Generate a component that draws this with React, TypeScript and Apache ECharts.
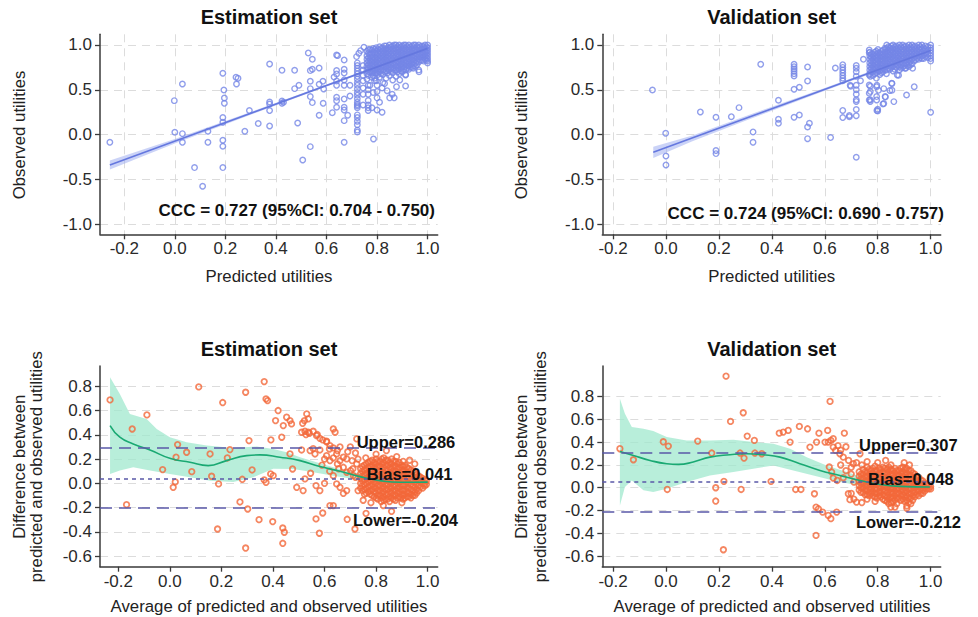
import React, { useEffect, useRef } from "react";
import * as echarts from "echarts";

// ---------------- data ----------------
const X_TICKS = [-0.2, 0, 0.2, 0.4, 0.6, 0.8, 1.0];
const Y_TICKS_TOP = [-1.0, -0.5, 0, 0.5, 1.0];
const Y_TICKS_BOTTOM = [-0.6, -0.4, -0.2, 0, 0.2, 0.4, 0.6, 0.8];

const TITLES = ["Estimation set", "Validation set", "Estimation set", "Validation set"];
const CCC_LABELS = ["CCC = 0.727 (95%CI: 0.704 - 0.750)", "CCC = 0.724 (95%CI: 0.690 - 0.757)"];
const TOP_X_NAME = "Predicted utilities";
const TOP_Y_NAME = "Observed utilities";
const BOTTOM_X_NAME = "Average of predicted and observed utilities";
const BOTTOM_Y_NAME = ["Difference between", "predicted and observed utilities"];

// Bland-Altman lines: upper, bias, lower
const EST_BA_LINES = [0.286, 0.041, -0.204];
const VAL_BA_LINES = [0.307, 0.048, -0.212];

// ---- Estimation set: predicted vs observed ----
const EST_SC_POINTS: number[][] = [
  [-0.257, -0.086], [-0.002, 0.379], [0.03, 0.565], [0.0, 0.026], [0.03, 0.011], [0.03, -0.086],
  [0.078, -0.368], [0.11, -0.576], [0.131, 0.037], [0.131, -0.086], [0.19, 0.684], [0.194, 0.498],
  [0.196, 0.409], [0.196, 0.349], [0.19, 0.19], [0.19, 0.138], [0.19, -0.063], [0.19, -0.13],
  [0.19, -0.368], [0.242, 0.639], [0.25, 0.628], [0.244, 0.565], [0.295, 0.268], [0.277, 0.037],
  [0.33, 0.123], [0.375, 0.788], [0.375, 0.364], [0.375, 0.342], [0.375, 0.268], [0.375, 0.097],
  [0.424, 0.717], [0.424, 0.375], [0.424, 0.349], [0.43, 0.36], [0.474, 0.717], [0.474, 0.513],
  [0.491, 0.55], [0.486, 0.13], [0.506, -0.283], [0.528, 0.911], [0.544, 0.84], [0.536, 0.714],
  [0.544, 0.729], [0.536, 0.595], [0.536, 0.513], [0.536, 0.424], [0.544, 0.357], [0.536, -0.134],
  [0.571, 0.743], [0.571, 0.561], [0.586, 0.595], [0.589, 0.509], [0.571, 0.216], [0.587, 0.349],
  [0.64, 0.888], [0.644, 0.881], [0.67, 0.833], [0.67, 0.729], [0.64, 0.714], [0.64, 0.677],
  [0.67, 0.688], [0.63, 0.643], [0.64, 0.599], [0.67, 0.61], [0.64, 0.55], [0.67, 0.55],
  [0.693, 0.55], [0.64, 0.416], [0.64, 0.379], [0.67, 0.398], [0.693, 0.431], [0.67, 0.305],
  [0.64, 0.305], [0.623, 0.245], [0.67, 0.275], [0.684, 0.216], [0.67, 0.156], [0.67, -0.086],
  [0.719, 0.87], [0.728, 0.907], [0.748, 0.974], [0.735, 0.937],
  [0.786, -0.048], [0.8, 0.55], [0.8, 0.48], [0.8, 0.41], [0.8, 0.275], [0.82, 0.25], [0.84, 0.49],
  [0.85, 0.41], [0.868, 0.41], [0.877, 0.535], [0.913, 0.543], [0.89, 0.61], [0.943, 0.74],
  [0.966, 0.7], [0.913, 0.665], [0.86, 0.45], [0.83, 0.57], [0.82, 0.52], [0.79, 0.6], [0.81, 0.36],
  [0.78, 0.3],
];
const EST_SC_COLUMNS: [number, number[]][] = [
  [0.722, [0.8, 0.77, 0.74, 0.71, 0.68, 0.65, 0.62, 0.58, 0.55, 0.51, 0.47, 0.44, 0.4, 0.36, 0.335, 0.32, 0.3, 0.22, 0.19, 0.15, 0.11, 0.05, 0.03]],
  [0.745, [0.77, 0.72, 0.66, 0.6, 0.52, 0.45, 0.33]],
  [0.765, [0.55, 0.5, 0.45, 0.38, 0.33, 0.3, 0.27]],
  [0.76, [0.93, 0.88, 0.84, 0.8, 0.76, 0.72, 0.68, 0.62]],
  [0.772, [0.95, 0.9, 0.86, 0.82, 0.78, 0.74, 0.7, 0.55]],
  [0.785, [0.96, 0.92, 0.87, 0.83, 0.79, 0.75, 0.71, 0.66, 0.47]],
  [0.797, [0.97, 0.93, 0.89, 0.85, 0.81, 0.77, 0.73, 0.69, 0.6]],
  [0.81, [0.98, 0.94, 0.9, 0.86, 0.82, 0.78, 0.74, 0.7, 0.64]],
  [0.823, [0.97, 0.93, 0.89, 0.85, 0.81, 0.77, 0.72, 0.67, 0.58]],
  [0.836, [0.99, 0.95, 0.91, 0.87, 0.83, 0.79, 0.75, 0.71, 0.63]],
  [0.849, [1.0, 0.96, 0.92, 0.88, 0.84, 0.8, 0.76, 0.72, 0.66]],
  [0.862, [0.99, 0.95, 0.91, 0.87, 0.83, 0.79, 0.74, 0.69, 0.61]],
  [0.875, [1.0, 0.96, 0.92, 0.88, 0.84, 0.8, 0.76, 0.72, 0.65]],
  [0.888, [1.0, 0.96, 0.93, 0.89, 0.85, 0.81, 0.77, 0.73, 0.68]],
  [0.9, [0.99, 0.95, 0.91, 0.87, 0.83, 0.79, 0.75, 0.7]],
  [0.913, [1.0, 0.96, 0.92, 0.88, 0.84, 0.8, 0.76, 0.72, 0.67]],
  [0.926, [1.0, 0.96, 0.93, 0.89, 0.85, 0.81, 0.77, 0.73]],
  [0.939, [0.99, 0.95, 0.91, 0.87, 0.83, 0.79, 0.75]],
  [0.952, [1.0, 0.96, 0.92, 0.88, 0.84, 0.8, 0.76]],
  [0.965, [1.0, 0.97, 0.93, 0.89, 0.85, 0.81, 0.72]],
  [0.978, [0.99, 0.95, 0.91, 0.87, 0.83]],
  [0.99, [1.0, 0.96, 0.92, 0.88, 0.84]],
  [1.0, [1.0, 0.97, 0.94, 0.91, 0.88, 0.85, 0.82, 0.8]],
  [0.766, [0.95, 0.91, 0.86, 0.82, 0.78, 0.74, 0.7, 0.66]],
  [0.779, [0.94, 0.89, 0.85, 0.81, 0.77, 0.73, 0.69, 0.64]],
  [0.791, [0.95, 0.91, 0.85, 0.81, 0.77, 0.73, 0.69, 0.63]],
  [0.803, [0.95, 0.91, 0.87, 0.83, 0.79, 0.75, 0.71, 0.67]],
  [0.816, [0.96, 0.92, 0.88, 0.84, 0.8, 0.76, 0.72, 0.68]],
  [0.829, [0.99, 0.95, 0.91, 0.87, 0.83, 0.79, 0.75, 0.7]],
  [0.842, [0.97, 0.93, 0.89, 0.85, 0.81, 0.77, 0.73, 0.69]],
  [0.855, [0.98, 0.94, 0.9, 0.86, 0.82, 0.78, 0.74, 0.7]],
  [0.868, [1.0, 0.97, 0.93, 0.89, 0.85, 0.81, 0.77, 0.72]],
  [0.881, [0.98, 0.94, 0.9, 0.86, 0.82, 0.78, 0.74, 0.7]],
  [0.894, [0.98, 0.94, 0.91, 0.87, 0.83, 0.79, 0.75, 0.71]],
  [0.906, [1.0, 0.97, 0.93, 0.89, 0.85, 0.81, 0.77, 0.73]],
  [0.919, [0.98, 0.94, 0.9, 0.86, 0.82, 0.78, 0.74]],
  [0.932, [0.98, 0.94, 0.91, 0.87, 0.83, 0.79, 0.75]],
  [0.945, [1.0, 0.97, 0.93, 0.89, 0.85, 0.81, 0.77]],
  [0.958, [0.98, 0.94, 0.9, 0.86, 0.82, 0.78]],
  [0.971, [0.98, 0.95, 0.91, 0.87, 0.83]],
  [0.984, [0.98, 0.94, 0.9, 0.86, 0.82]],
  [0.995, [0.98, 0.95, 0.92, 0.89, 0.86, 0.83]],
];
const EST_FIT_LINE = [[-0.257, -0.34], [1.0, 0.962]];
const EST_FIT_BAND_HI = [[-0.257, -0.29], [0.0, -0.05], [0.3, 0.252], [0.6, 0.558], [0.8, 0.767], [1.0, 0.978]];
const EST_FIT_BAND_LO = [[-0.257, -0.39], [0.0, -0.098], [0.3, 0.222], [0.6, 0.538], [0.8, 0.743], [1.0, 0.946]];

// ---- Validation set: predicted vs observed ----
const VAL_SC_POINTS: number[][] = [
  [-0.051, 0.498], [-0.001, 0.015], [0.0, -0.238], [0.0, -0.338], [0.13, 0.253], [0.189, 0.193],
  [0.189, -0.178], [0.189, -0.212], [0.247, 0.2], [0.276, 0.301], [0.329, 0.03], [0.329, -0.086],
  [0.358, 0.784], [0.425, 0.383], [0.425, 0.171], [0.425, 0.126], [0.484, 0.506], [0.504, 0.528],
  [0.535, 0.755], [0.535, 0.599], [0.484, 0.193], [0.504, 0.219], [0.542, 0.126], [0.535, 0.086],
  [0.535, -0.045], [0.622, -0.033], [0.64, 0.743], [0.693, 0.2], [0.698, 0.54], [0.693, 0.214],
  [0.735, 0.6], [0.746, 0.84], [0.768, 0.944], [0.768, 0.914], [0.768, 0.665], [0.768, 0.554],
  [0.768, 0.461], [0.768, 0.387], [0.796, 0.535], [0.796, 0.424], [0.796, 0.387], [0.8, 0.283],
  [0.8, 0.264], [0.82, 0.342], [0.828, 0.424], [0.846, 0.491], [0.853, 0.573], [0.861, 0.368],
  [0.874, 0.665], [0.909, 0.442], [0.938, 0.535], [1.0, 0.249], [0.903, 0.74], [0.932, 0.74],
  [0.834, 1.0], [0.797, 0.55], [0.803, 0.494], [0.823, 0.513], [0.829, 0.42], [0.854, 0.494],
  [0.854, 0.569], [0.823, 0.346], [0.797, 0.27], [0.879, 0.662], [0.696, 0.55],
];
const VAL_SC_COLUMNS: [number, number[]][] = [
  [0.484, [0.784, 0.758, 0.732, 0.706, 0.68, 0.654]],
  [0.668, [0.78, 0.75, 0.72, 0.69, 0.66, 0.63, 0.6, 0.27, 0.19]],
  [0.719, [0.77, 0.74, 0.7, 0.65, 0.55, 0.5, 0.45, 0.39, 0.37, 0.28, 0.21, -0.253]],
  [0.772, [0.65, 0.54, 0.48, 0.39, 0.37]],
  [0.77, [0.92, 0.88, 0.84, 0.8, 0.76, 0.72, 0.68]],
  [0.782, [0.9, 0.86, 0.82, 0.78, 0.74, 0.7, 0.66]],
  [0.795, [0.93, 0.89, 0.85, 0.81, 0.77, 0.73, 0.69, 0.63]],
  [0.808, [0.91, 0.87, 0.83, 0.79, 0.75, 0.71, 0.67]],
  [0.82, [0.94, 0.9, 0.86, 0.82, 0.78, 0.74, 0.7]],
  [0.833, [0.96, 0.92, 0.88, 0.84, 0.8, 0.76, 0.72, 0.68]],
  [0.846, [0.97, 0.93, 0.89, 0.85, 0.81, 0.77, 0.73]],
  [0.858, [1.0, 0.96, 0.92, 0.88, 0.84, 0.8, 0.76, 0.71]],
  [0.87, [0.99, 0.95, 0.91, 0.87, 0.83, 0.79, 0.75]],
  [0.882, [1.0, 0.96, 0.92, 0.88, 0.84, 0.8, 0.76, 0.72]],
  [0.894, [1.0, 0.96, 0.92, 0.88, 0.84, 0.8, 0.75]],
  [0.906, [0.99, 0.95, 0.91, 0.87, 0.83, 0.79, 0.74]],
  [0.918, [1.0, 0.96, 0.92, 0.88, 0.84, 0.8, 0.76]],
  [0.93, [1.0, 0.96, 0.92, 0.88, 0.84, 0.79]],
  [0.942, [0.99, 0.95, 0.91, 0.87, 0.83]],
  [0.955, [1.0, 0.96, 0.92, 0.88, 0.84]],
  [0.967, [1.0, 0.96, 0.92, 0.88, 0.85]],
  [0.98, [0.99, 0.95, 0.91, 0.87]],
  [1.0, [1.0, 0.97, 0.94, 0.91, 0.88, 0.85, 0.82]],
  [0.776, [0.9, 0.86, 0.82, 0.78, 0.74, 0.7]],
  [0.789, [0.92, 0.88, 0.84, 0.8, 0.76, 0.72, 0.68]],
  [0.801, [0.95, 0.91, 0.87, 0.83, 0.79, 0.75, 0.71]],
  [0.814, [0.93, 0.89, 0.85, 0.81, 0.77, 0.73, 0.69]],
  [0.827, [0.96, 0.92, 0.88, 0.84, 0.8, 0.76, 0.72]],
  [0.84, [0.98, 0.94, 0.9, 0.86, 0.82, 0.78, 0.74]],
  [0.852, [0.99, 0.95, 0.91, 0.87, 0.83, 0.79, 0.75]],
  [0.864, [0.98, 0.94, 0.9, 0.86, 0.82, 0.78, 0.73]],
  [0.876, [0.97, 0.93, 0.89, 0.85, 0.81, 0.77]],
  [0.888, [0.98, 0.94, 0.9, 0.86, 0.82, 0.78, 0.74]],
  [0.9, [0.98, 0.94, 0.9, 0.86, 0.82, 0.77]],
  [0.912, [0.97, 0.93, 0.89, 0.85, 0.81, 0.77]],
  [0.924, [0.98, 0.94, 0.9, 0.86, 0.82, 0.78]],
  [0.936, [0.98, 0.94, 0.9, 0.86, 0.82]],
  [0.948, [0.97, 0.93, 0.89, 0.85]],
  [0.961, [0.98, 0.94, 0.9, 0.86]],
  [0.974, [0.97, 0.93, 0.89, 0.85]],
  [0.99, [0.98, 0.94, 0.9, 0.86]],
];
const VAL_FIT_LINE = [[-0.048, -0.197], [1.0, 0.939]];
const VAL_FIT_BAND_HI = [[-0.048, -0.135], [0.1, -0.01], [0.3, 0.205], [0.6, 0.52], [0.8, 0.737], [1.0, 0.962]];
const VAL_FIT_BAND_LO = [[-0.048, -0.26], [0.1, -0.075], [0.3, 0.155], [0.6, 0.49], [0.8, 0.707], [1.0, 0.916]];

// ---- Estimation set: Bland-Altman ----
const EST_BA_POINTS: number[][] = [
  [-0.232, 0.688], [-0.168, -0.176], [-0.146, 0.448], [-0.089, 0.564], [-0.028, 0.113], [0.013, -0.033],
  [0.021, 0.011], [0.03, 0.319], [0.024, 0.215], [0.065, 0.256], [0.085, 0.096], [0.112, 0.795],
  [0.156, 0.242], [0.162, 0.058], [0.189, -0.005], [0.205, 0.666], [0.185, -0.377], [0.223, 0.209],
  [0.233, 0.278], [0.272, -0.154], [0.294, 0.751], [0.302, -0.212], [0.307, 0.352], [0.319, 0.11],
  [0.281, 0.033], [0.294, -0.534], [0.346, -0.3], [0.366, 0.839], [0.373, 0.696], [0.379, 0.682],
  [0.366, 0.028], [0.373, 0.008], [0.391, 0.077], [0.401, 0.063], [0.392, 0.358], [0.399, -0.316],
  [0.41, 0.517], [0.42, 0.6], [0.434, 0.38], [0.44, 0.476], [0.438, -0.369], [0.444, -0.404],
  [0.438, -0.495], [0.453, 0.545], [0.466, 0.517], [0.472, 0.49], [0.466, 0.242], [0.476, 0.118],
  [0.492, -0.033], [0.515, 0.495], [0.522, 0.517], [0.531, 0.572], [0.537, 0.531], [0.511, 0.421],
  [0.524, 0.429], [0.537, 0.421], [0.556, 0.429], [0.569, 0.393], [0.582, 0.371], [0.511, 0.275],
  [0.544, 0.27], [0.563, 0.242], [0.524, 0.036], [0.517, -0.06], [0.546, 0.083], [0.567, -0.019],
  [0.582, -0.06], [0.567, -0.294], [0.58, -0.412], [0.593, -0.245], [0.621, -0.184], [0.634, -0.184],
  [0.608, 0.347], [0.634, 0.448], [0.641, 0.421], [0.619, 0.283], [0.621, 0.187], [0.647, 0.242],
  [0.66, 0.187], [0.634, 0.063], [0.647, -0.005], [0.66, -0.033], [0.673, -0.083], [0.686, -0.06],
  [0.688, -0.297], [0.718, -0.377], [0.725, 0.366], [0.761, -0.248], [0.828, -0.184], [0.86, -0.231],
  [0.528, 0.402], [0.541, 0.413], [0.572, 0.402], [0.593, 0.358], [0.608, 0.341], [0.621, 0.311],
  [0.634, 0.292], [0.65, 0.27], [0.673, 0.215], [0.686, 0.201], [0.707, 0.187], [0.725, 0.16],
  [0.556, 0.286], [0.582, 0.275], [0.608, 0.228], [0.634, 0.209], [0.65, 0.16], [0.673, 0.132],
  [0.686, 0.091], [0.701, 0.105], [0.712, 0.063], [0.66, 0.3], [0.69, 0.26], [0.7, 0.3], [0.6, 0.0],
  [0.62, 0.1], [0.655, 0.12], [0.59, 0.15], [0.6, 0.2],
  [0.72, 0.25], [0.73, 0.2], [0.71, 0.12], [0.72, 0.05], [0.73, -0.06], [0.75, -0.14], [0.78, -0.16],
  [0.8, 0.24], [0.84, 0.27], [0.9, -0.16], [0.95, 0.16], [0.93, 0.19], [0.88, 0.22], [0.82, -0.15],
  [0.76, 0.21],
];
const EST_BA_COLUMNS: [number, number[]][] = [
  [0.74, [0.12, 0.08, 0.04, 0.0, -0.04]],
  [0.755, [0.15, 0.11, 0.07, 0.03, -0.01, -0.05, -0.09]],
  [0.77, [0.17, 0.13, 0.09, 0.05, 0.01, -0.03, -0.07]],
  [0.785, [0.19, 0.15, 0.11, 0.07, 0.03, -0.01, -0.05, -0.1]],
  [0.8, [0.2, 0.16, 0.12, 0.08, 0.04, 0.0, -0.04, -0.08, -0.12]],
  [0.815, [0.18, 0.14, 0.1, 0.06, 0.02, -0.02, -0.06, -0.1]],
  [0.83, [0.21, 0.17, 0.13, 0.09, 0.05, 0.01, -0.03, -0.07, -0.11, -0.14]],
  [0.845, [0.19, 0.15, 0.11, 0.07, 0.03, -0.01, -0.05, -0.09, -0.13]],
  [0.86, [0.2, 0.16, 0.12, 0.08, 0.04, 0.0, -0.04, -0.08, -0.12]],
  [0.875, [0.18, 0.14, 0.1, 0.06, 0.02, -0.02, -0.06, -0.1, -0.14]],
  [0.89, [0.17, 0.13, 0.09, 0.05, 0.01, -0.03, -0.07, -0.11]],
  [0.905, [0.18, 0.14, 0.1, 0.06, 0.02, -0.02, -0.06, -0.1, -0.13]],
  [0.92, [0.13, 0.09, 0.05, 0.01, -0.03, -0.07, -0.11]],
  [0.935, [0.11, 0.07, 0.03, -0.01, -0.05, -0.09, -0.12]],
  [0.95, [0.09, 0.05, 0.01, -0.03, -0.07, -0.1]],
  [0.965, [0.06, 0.02, -0.02, -0.06]],
  [0.98, [0.04, 0.0, -0.04]],
  [0.995, [0.02, -0.01]],
  [0.747, [0.14, 0.1, 0.06, 0.02, -0.02, -0.06]],
  [0.762, [0.16, 0.12, 0.08, 0.04, 0.0, -0.04, -0.08]],
  [0.777, [0.18, 0.14, 0.1, 0.06, 0.02, -0.02, -0.06, -0.09]],
  [0.792, [0.17, 0.13, 0.09, 0.05, 0.01, -0.03, -0.07, -0.11]],
  [0.807, [0.18, 0.14, 0.1, 0.06, 0.02, -0.02, -0.06, -0.1, -0.13]],
  [0.822, [0.2, 0.16, 0.12, 0.08, 0.04, 0.0, -0.04, -0.08, -0.12]],
  [0.837, [0.19, 0.15, 0.11, 0.07, 0.03, -0.01, -0.05, -0.09, -0.13]],
  [0.852, [0.17, 0.13, 0.09, 0.05, 0.01, -0.03, -0.07, -0.11, -0.15]],
  [0.867, [0.18, 0.14, 0.1, 0.06, 0.02, -0.02, -0.06, -0.1, -0.13]],
  [0.882, [0.16, 0.12, 0.08, 0.04, 0.0, -0.04, -0.08, -0.12]],
  [0.897, [0.15, 0.11, 0.07, 0.03, -0.01, -0.05, -0.09, -0.12]],
  [0.912, [0.15, 0.11, 0.07, 0.03, -0.01, -0.05, -0.09, -0.12]],
  [0.927, [0.12, 0.08, 0.04, 0.0, -0.04, -0.08, -0.11]],
  [0.942, [0.1, 0.06, 0.02, -0.02, -0.06, -0.1]],
  [0.957, [0.07, 0.03, -0.01, -0.05, -0.08]],
  [0.972, [0.05, 0.01, -0.03]],
  [0.988, [0.03, 0.0, -0.02]],
];
const EST_BA_LOESS = [
  [-0.232, 0.476], [-0.194, 0.38], [-0.142, 0.325], [-0.077, 0.275], [0.0, 0.206], [0.078, 0.173],
  [0.149, 0.146], [0.22, 0.187], [0.298, 0.228], [0.35, 0.234], [0.427, 0.215], [0.505, 0.187],
  [0.582, 0.138], [0.66, 0.099], [0.737, 0.055], [0.815, 0.022], [0.893, 0.008], [1.0, 0.01],
];
const EST_BA_BAND_HI = [
  [-0.232, 0.875], [-0.194, 0.737], [-0.155, 0.572], [-0.09, 0.531], [-0.051, 0.448], [0.0, 0.38],
  [0.065, 0.338], [0.143, 0.311], [0.246, 0.292], [0.337, 0.303], [0.401, 0.283], [0.453, 0.256],
  [0.505, 0.215], [0.569, 0.173], [0.634, 0.132], [0.712, 0.091], [0.802, 0.055], [0.893, 0.036],
  [1.0, 0.028],
];
const EST_BA_BAND_LO = [
  [-0.232, 0.077], [-0.194, 0.105], [-0.142, 0.132], [-0.077, 0.105], [0.0, 0.077], [0.078, 0.05],
  [0.156, 0.02], [0.246, 0.01], [0.324, 0.05], [0.401, 0.12], [0.479, 0.118], [0.556, 0.091],
  [0.634, 0.063], [0.712, 0.036], [0.79, 0.008], [0.867, -0.005], [1.0, 0.0],
];

// ---- Validation set: Bland-Altman ----
const VAL_BA_POINTS: number[][] = [
  [-0.174, 0.343], [-0.123, 0.246], [-0.01, 0.404], [0.009, 0.366], [0.005, -0.015], [0.12, 0.41],
  [0.173, 0.305], [0.188, 0.0], [0.188, -0.117], [0.219, 0.056], [0.227, 0.981], [0.244, 0.583],
  [0.217, -0.545], [0.28, 0.305], [0.295, 0.261], [0.284, -0.015], [0.292, 0.659], [0.307, 0.454],
  [0.334, 0.416], [0.336, 0.305], [0.362, 0.299], [0.397, 0.056], [0.428, 0.48], [0.443, 0.489],
  [0.462, 0.504], [0.469, 0.401], [0.504, 0.539], [0.535, 0.518], [0.49, -0.015], [0.51, -0.015],
  [0.561, -0.053], [0.567, -0.17], [0.576, -0.185], [0.592, -0.214], [0.613, -0.243], [0.623, -0.272],
  [0.645, -0.214], [0.567, -0.419], [0.578, 0.48], [0.569, 0.401], [0.601, 0.401], [0.611, 0.504],
  [0.62, 0.759], [0.623, 0.416], [0.632, 0.357], [0.544, 0.357], [0.641, 0.328], [0.657, 0.299],
  [0.674, 0.48], [0.67, 0.269], [0.617, 0.182], [0.626, 0.138], [0.632, 0.085], [0.647, 0.064],
  [0.67, 0.088], [0.689, -0.053], [0.695, -0.105], [0.72, -0.126], [0.733, 0.299], [0.708, 0.211],
  [0.613, 0.401], [0.632, 0.431], [0.65, 0.37], [0.66, 0.33], [0.68, 0.36], [0.69, 0.24], [0.7, 0.18],
  [0.68, 0.15], [0.66, 0.2], [0.7, 0.12], [0.71, 0.05],
  [0.72, 0.22], [0.74, 0.2], [0.76, -0.1], [0.7, -0.05], [0.71, -0.1], [0.74, -0.13], [0.76, 0.23],
  [0.83, 0.24], [0.9, 0.22], [0.92, 0.2], [0.85, -0.17], [0.91, -0.18], [0.79, -0.12], [0.8, 0.22],
];
const VAL_BA_COLUMNS: [number, number[]][] = [
  [0.73, [0.14, 0.1, 0.06, 0.02, -0.02]],
  [0.745, [0.16, 0.12, 0.08, 0.04, 0.0, -0.04]],
  [0.76, [0.18, 0.14, 0.1, 0.06, 0.02, -0.02, -0.06]],
  [0.775, [0.15, 0.11, 0.07, 0.03, -0.01, -0.05]],
  [0.79, [0.19, 0.15, 0.11, 0.07, 0.03, -0.01, -0.05, -0.08]],
  [0.805, [0.17, 0.13, 0.09, 0.05, 0.01, -0.03, -0.07]],
  [0.82, [0.18, 0.14, 0.1, 0.06, 0.02, -0.02, -0.06, -0.1]],
  [0.835, [0.16, 0.12, 0.08, 0.04, 0.0, -0.04, -0.08, -0.12]],
  [0.85, [0.2, 0.16, 0.12, 0.08, 0.04, 0.0, -0.04, -0.08, -0.13]],
  [0.865, [0.17, 0.13, 0.09, 0.05, 0.01, -0.03, -0.07, -0.11, -0.17]],
  [0.88, [0.15, 0.11, 0.07, 0.03, -0.01, -0.05, -0.09]],
  [0.895, [0.18, 0.14, 0.1, 0.06, 0.02, -0.02, -0.06, -0.1]],
  [0.91, [0.17, 0.13, 0.09, 0.05, 0.01, -0.03, -0.07, -0.11, -0.16]],
  [0.925, [0.15, 0.11, 0.07, 0.03, -0.01, -0.05, -0.09, -0.14]],
  [0.94, [0.12, 0.08, 0.04, 0.0, -0.04, -0.08]],
  [0.955, [0.09, 0.05, 0.01, -0.03, -0.07]],
  [0.97, [0.06, 0.02, -0.02, -0.05]],
  [0.985, [0.03, -0.01]],
  [1.0, [0.01, -0.01]],
  [0.737, [0.12, 0.08, 0.04, 0.0, -0.04]],
  [0.752, [0.14, 0.1, 0.06, 0.02, -0.02, -0.06]],
  [0.767, [0.16, 0.12, 0.08, 0.04, 0.0, -0.04, -0.07]],
  [0.782, [0.17, 0.13, 0.09, 0.05, 0.01, -0.03, -0.07]],
  [0.797, [0.15, 0.11, 0.07, 0.03, -0.01, -0.05, -0.09]],
  [0.812, [0.16, 0.12, 0.08, 0.04, 0.0, -0.04, -0.08]],
  [0.827, [0.17, 0.13, 0.09, 0.05, 0.01, -0.03, -0.07, -0.11]],
  [0.842, [0.18, 0.14, 0.1, 0.06, 0.02, -0.02, -0.06, -0.1, -0.14]],
  [0.857, [0.15, 0.11, 0.07, 0.03, -0.01, -0.05, -0.09, -0.12]],
  [0.872, [0.15, 0.11, 0.07, 0.03, -0.01, -0.05, -0.09, -0.14]],
  [0.887, [0.17, 0.13, 0.09, 0.05, 0.01, -0.03, -0.07, -0.11]],
  [0.902, [0.16, 0.12, 0.08, 0.04, 0.0, -0.04, -0.08, -0.12]],
  [0.917, [0.15, 0.11, 0.07, 0.03, -0.01, -0.05, -0.09, -0.13]],
  [0.932, [0.13, 0.09, 0.05, 0.01, -0.03, -0.07, -0.11]],
  [0.947, [0.1, 0.06, 0.02, -0.02, -0.06]],
  [0.962, [0.07, 0.03, -0.01, -0.05]],
  [0.977, [0.04, 0.0, -0.03]],
  [0.992, [0.02, -0.01]],
];
const VAL_BA_LOESS = [
  [-0.174, 0.319], [-0.123, 0.284], [-0.06, 0.24], [0.003, 0.211], [0.047, 0.205], [0.103, 0.226],
  [0.166, 0.269], [0.242, 0.29], [0.305, 0.299], [0.368, 0.29], [0.431, 0.269], [0.506, 0.211],
  [0.582, 0.152], [0.657, 0.108], [0.733, 0.064], [0.809, 0.029], [0.884, 0.012], [0.997, 0.006],
];
const VAL_BA_BAND_HI = [
  [-0.174, 0.782], [-0.155, 0.65], [-0.129, 0.533], [-0.085, 0.518], [-0.048, 0.498], [0.003, 0.445],
  [0.078, 0.416], [0.166, 0.416], [0.255, 0.422], [0.33, 0.401], [0.406, 0.387], [0.469, 0.343],
  [0.532, 0.269], [0.607, 0.196], [0.683, 0.138], [0.758, 0.079], [0.834, 0.044], [0.997, 0.023],
];
const VAL_BA_BAND_LO = [
  [-0.174, -0.155], [-0.155, 0.006], [-0.129, 0.064], [-0.085, -0.023], [-0.048, -0.038], [0.003, -0.009],
  [0.078, 0.05], [0.166, 0.108], [0.255, 0.138], [0.33, 0.167], [0.406, 0.196], [0.481, 0.152],
  [0.557, 0.108], [0.632, 0.064], [0.708, 0.029], [0.783, 0.006], [0.859, -0.009], [0.997, -0.012],
];

// ---------------- styling / layout ----------------
const FONT = '"Liberation Sans", Arial, Helvetica, sans-serif';
const BLUE = "#7486e6";
const BLUE_LINE = "#6578df";
const BLUE_BAND = "rgba(160,175,240,0.55)";
const ORANGE = "#f2683a";
const GREEN = "#1aa973";
const GREEN_BAND = "rgba(160,232,206,0.75)";
const REF_LINE = "#5a58a8";
const AXIS = "#3a3a3a";
const GRID = "#dcdcdc";

const GRIDS = [
  { left: 100, top: 34.3, width: 337.7, height: 200 },
  { left: 602.3, top: 34.3, width: 338.4, height: 200 },
  { left: 100, top: 366, width: 337.7, height: 200.7 },
  { left: 602.3, top: 366, width: 338.4, height: 200.7 },
];
const X_RANGES = [[-0.296, 1.04], [-0.2405, 1.038], [-0.271, 1.039], [-0.2405, 1.038]];
const Y_RANGES = [[-1.112, 1.119], [-1.112, 1.119], [-0.688, 0.9675], [-0.694, 1.07]];

const flatCols = (cols: [number, number[]][]) =>
  cols.flatMap(([x, ys]) => ys.map((y) => [x, y]));

function axisBase(ticks: number[], vertical: boolean, showSplit: boolean) {
  return {
    type: "value",
    axisLine: { show: true, onZero: false, lineStyle: { color: AXIS, width: 1.5 } },
    axisTick: { show: true, length: 5, customValues: ticks, lineStyle: { color: AXIS, width: 1.3 } },
    axisLabel: {
      customValues: ticks,
      formatter: (v: number) => v.toFixed(1),
      color: "#2a2a2a",
      fontSize: 17,
      fontFamily: FONT,
      margin: vertical ? 8 : 6,
    },
    splitLine: { show: showSplit, lineStyle: { color: GRID, width: 1, type: [8, 6] } },
  };
}

function bandSeries(idx: number, hi: number[][], lo: number[][], fill: string) {
  return {
    type: "custom",
    xAxisIndex: idx,
    yAxisIndex: idx,
    z: 1,
    silent: true,
    data: hi,
    renderItem: (params: any, api: any) => {
      if (params.dataIndex !== 0) return null;
      const pts = hi.map((p) => api.coord(p)).concat(lo.slice().reverse().map((p) => api.coord(p)));
      return { type: "polygon", shape: { points: pts }, style: { fill } };
    },
  };
}

function scatterSeries(idx: number, data: number[][], color: string, size: number, bw: number, extra: any = {}) {
  return {
    type: "scatter",
    xAxisIndex: idx,
    yAxisIndex: idx,
    z: 2,
    silent: true,
    symbol: "circle",
    symbolSize: size,
    data,
    itemStyle: { color: "rgba(0,0,0,0)", borderColor: color, borderWidth: bw },
    ...extra,
  };
}

function lineSeries(idx: number, data: number[][], color: string, smooth: boolean) {
  return {
    type: "line",
    xAxisIndex: idx,
    yAxisIndex: idx,
    z: 3,
    silent: true,
    showSymbol: false,
    symbol: "none",
    smooth,
    data,
    lineStyle: { color, width: 1.6 },
  };
}

function refLines(values: number[]) {
  const types = [[12, 7], [4, 4], [12, 7]];
  return {
    silent: true,
    symbol: "none",
    label: { show: false },
    animation: false,
    data: values.map((v, i) => ({ yAxis: v, lineStyle: { color: REF_LINE, width: 1.6, type: types[i] } })),
  };
}

function text(x: number, y: number, t: string, size: number, bold: boolean, align = "center", rot = 0, color = "#111") {
  return {
    type: "text",
    x,
    y,
    rotation: rot,
    z: 100,
    silent: true,
    style: {
      text: t,
      fill: color,
      font: `${bold ? "bold " : ""}${size}px ${FONT}`,
      textAlign: align,
      textVerticalAlign: "middle",
      align,
      verticalAlign: "middle",
    },
  };
}

function buildOption() {
  const xAxis = GRIDS.map((_, i) => ({
    ...axisBase(X_TICKS, false, i < 2),
    gridIndex: i,
    min: X_RANGES[i][0],
    max: X_RANGES[i][1],
  }));
  const yAxis = GRIDS.map((_, i) => ({
    ...axisBase(i < 2 ? Y_TICKS_TOP : Y_TICKS_BOTTOM, true, true),
    gridIndex: i,
    min: Y_RANGES[i][0],
    max: Y_RANGES[i][1],
  }));

  const baLabels = (vals: number[]) => [
    `Upper=${vals[0].toFixed(3)}`,
    `Bias=${vals[1].toFixed(3)}`,
    `Lower=${vals[2].toFixed(3)}`,
  ];
  const estL = baLabels(EST_BA_LINES);
  const valL = baLabels(VAL_BA_LINES);

  const graphic = [
    text(269, 17, TITLES[0], 20, true),
    text(771.7, 17, TITLES[1], 20, true),
    text(269, 349, TITLES[2], 20, true),
    text(771.7, 349, TITLES[3], 20, true),
    text(435, 210.7, CCC_LABELS[0], 17, true, "right"),
    text(944, 213.3, CCC_LABELS[1], 17, true, "right"),
    text(269, 276, TOP_X_NAME, 16.8, false, "center", 0, "#222"),
    text(771.7, 276, TOP_X_NAME, 16.8, false, "center", 0, "#222"),
    text(19, 135, TOP_Y_NAME, 16.8, false, "center", Math.PI / 2, "#222"),
    text(521.7, 135, TOP_Y_NAME, 16.8, false, "center", Math.PI / 2, "#222"),
    text(269, 606, BOTTOM_X_NAME, 16.8, false, "center", 0, "#222"),
    text(772, 606, BOTTOM_X_NAME, 16.8, false, "center", 0, "#222"),
    text(19, 466.7, BOTTOM_Y_NAME[0], 16.8, false, "center", Math.PI / 2, "#222"),
    text(36.7, 466.7, BOTTOM_Y_NAME[1], 16.8, false, "center", Math.PI / 2, "#222"),
    text(521.7, 466.7, BOTTOM_Y_NAME[0], 16.8, false, "center", Math.PI / 2, "#222"),
    text(540, 466.7, BOTTOM_Y_NAME[1], 16.8, false, "center", Math.PI / 2, "#222"),
    text(356.7, 441.7, estL[0], 16.5, true, "left"),
    text(366.7, 474, estL[1], 16.5, true, "left"),
    text(353, 520, estL[2], 16.5, true, "left"),
    text(859, 445, valL[0], 16.5, true, "left"),
    text(868, 479, valL[1], 16.5, true, "left"),
    text(856, 521.7, valL[2], 16.5, true, "left"),
  ];

  const series = [
    bandSeries(0, EST_FIT_BAND_HI, EST_FIT_BAND_LO, BLUE_BAND),
    scatterSeries(0, EST_SC_POINTS.concat(flatCols(EST_SC_COLUMNS)), BLUE, 5.5, 1.4),
    lineSeries(0, EST_FIT_LINE, BLUE_LINE, false),

    bandSeries(1, VAL_FIT_BAND_HI, VAL_FIT_BAND_LO, BLUE_BAND),
    scatterSeries(1, VAL_SC_POINTS.concat(flatCols(VAL_SC_COLUMNS)), BLUE, 5.5, 1.4),
    lineSeries(1, VAL_FIT_LINE, BLUE_LINE, false),

    bandSeries(2, EST_BA_BAND_HI, EST_BA_BAND_LO, GREEN_BAND),
    scatterSeries(2, EST_BA_POINTS.concat(flatCols(EST_BA_COLUMNS)), ORANGE, 5.5, 1.8, { markLine: refLines(EST_BA_LINES) }),
    lineSeries(2, EST_BA_LOESS, GREEN, true),

    bandSeries(3, VAL_BA_BAND_HI, VAL_BA_BAND_LO, GREEN_BAND),
    scatterSeries(3, VAL_BA_POINTS.concat(flatCols(VAL_BA_COLUMNS)), ORANGE, 5.5, 1.8, { markLine: refLines(VAL_BA_LINES) }),
    lineSeries(3, VAL_BA_LOESS, GREEN, true),
  ];

  return {
    animation: false,
    backgroundColor: "#ffffff",
    textStyle: { fontFamily: FONT },
    grid: GRIDS.map((g) => ({ ...g, containLabel: false, outerBoundsMode: "none" })),
    xAxis,
    yAxis,
    series,
    graphic,
  };
}

export default function App() {
  const ref = useRef<HTMLDivElement>(null);
  useEffect(() => {
    if (!ref.current) return;
    const chart = echarts.init(ref.current, null, { renderer: "svg" });
    chart.setOption(buildOption() as any);
    return () => chart.dispose();
  }, []);
  return (
    <div
      ref={ref}
      style={{ position: "fixed", left: 0, top: 0, width: 978, height: 617, background: "#fff" }}
    />
  );
}
